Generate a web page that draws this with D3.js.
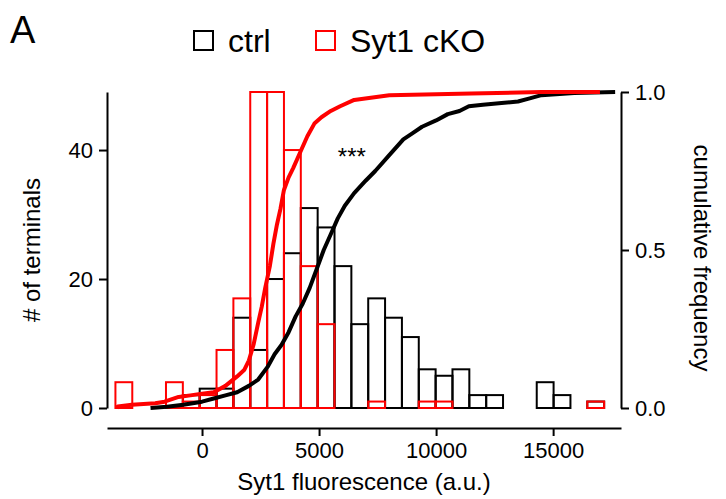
<!DOCTYPE html>
<head>
<meta charset="utf-8">
<script src="https://d3js.org/d3.v7.min.js"></script>
<style>
  body { margin: 0; background: #fff; font-family: "Liberation Sans", Arial, sans-serif; }
  .axis path, .axis line { stroke: #000; stroke-width: 2px; }
  .axis text { font-size: 22px; fill: #000; font-family: "Liberation Sans", Arial, sans-serif; }
</style>
</head>
<body>
<div id="vis"></div>
<script>
// histogram bins: start of each bin (a.u.), width 720
var binStarts = [-3700,-2980,-2260,-1540,-820,-100,620,1340,2060,2780,3500,4220,4940,5660,6380,7100,7820,8540,9260,9980,10700,11420,12140,12860,13580,14300,15020,15740,16460];
var binWidth = 720;
var ctrlCounts = [0,0,0,0,2,3,3,14,9,20,24,31,28,22,13,17,14,11,6,5,6,2,2,0,0,4,2,0,1];
var cKOCounts  = [4,0,0,4,1,2,9,17,49,49,40,22,13,0,0,1,0,0,1,1,0,0,0,0,0,0,0,0,1];

// cumulative curves [value, fraction]
var ctrlCum = [[-2200,0],[-1500,0.004],[-800,0.01],[0,0.02],[500,0.03],[1000,0.04],[1500,0.05],[2000,0.07],
  [2400,0.09],[2800,0.13],[3100,0.17],[3400,0.2],[3700,0.24],[4000,0.29],[4300,0.33],[4600,0.38],[4900,0.44],
  [5200,0.5],[5500,0.55],[5800,0.6],[6100,0.64],[6500,0.68],[7000,0.72],[7400,0.75],[8000,0.8],[8600,0.85],
  [9000,0.87],[9400,0.89],[10000,0.91],[10500,0.93],[11000,0.94],[11400,0.955],[12000,0.96],[12800,0.965],
  [13500,0.97],[14000,0.98],[14500,0.99],[15900,0.997],[17650,1]];
var cKOCum = [[-3650,0],[-3600,0.005],[-3000,0.01],[-2000,0.015],[-1600,0.02],[-1000,0.035],[-500,0.04],[0,0.045],
  [500,0.05],[1000,0.07],[1500,0.1],[1800,0.12],[2000,0.15],[2200,0.2],[2400,0.27],[2550,0.32],[2700,0.38],
  [2900,0.45],[3050,0.52],[3200,0.58],[3350,0.63],[3500,0.69],[3700,0.73],[3900,0.76],[4200,0.81],[4500,0.86],
  [4800,0.9],[5100,0.92],[5500,0.94],[5900,0.955],[6500,0.975],[8000,0.99],[11500,0.995],[14500,1],[17000,1]];

var xTicks = [0,5000,10000,15000];
var yTicks = [0,20,40];
var cumTicks = [0,0.5,1];

var W = 726, H = 499;
var plotL = 107, plotR = 621, plotT = 92, plotB = 408, xAxisY = 428;

var svg = d3.select("#vis").append("svg").attr("width", W).attr("height", H);

var x = d3.scaleLinear().domain([-4060, 17900]).range([plotL, plotR]);
var y = d3.scaleLinear().domain([0, 49]).range([plotB, plotT]);
var yc = d3.scaleLinear().domain([0, 1]).range([plotB, plotT]);

var plot = svg.append("g");

function drawBars(counts, colour) {
  plot.append("g").selectAll("rect")
    .data(counts.map(function(c, i) { return {x0: binStarts[i], n: c}; }).filter(function(d) { return d.n > 0; }))
    .enter().append("rect")
    .attr("x", function(d) { return x(d.x0); })
    .attr("width", function(d) { return x(d.x0 + binWidth) - x(d.x0); })
    .attr("y", function(d) { return y(d.n); })
    .attr("height", function(d) { return plotB - y(d.n); })
    .attr("fill", "none")
    .attr("stroke", colour)
    .attr("stroke-width", 2);
}
drawBars(ctrlCounts, "#000");
drawBars(cKOCounts, "#ff0000");

var line = d3.line().x(function(d) { return x(d[0]); }).y(function(d) { return yc(d[1]); });
svg.append("path").datum(ctrlCum).attr("d", line)
  .attr("fill", "none").attr("stroke", "#000").attr("stroke-width", 4).attr("stroke-linejoin", "round");
svg.append("path").datum(cKOCum).attr("d", line)
  .attr("fill", "none").attr("stroke", "#ff0000").attr("stroke-width", 4).attr("stroke-linejoin", "round");

// axes
svg.append("g").attr("class", "axis").attr("transform", "translate(" + plotL + ",0)")
  .call(d3.axisLeft(y).tickValues(yTicks).tickSize(8).tickSizeOuter(0).tickPadding(6));
svg.append("g").attr("class", "axis").attr("transform", "translate(" + plotR + ",0)")
  .call(d3.axisRight(yc).tickValues(cumTicks).tickFormat(d3.format(".1f")).tickSize(8).tickSizeOuter(0).tickPadding(6));
svg.append("g").attr("class", "axis").attr("transform", "translate(0," + xAxisY + ")")
  .call(d3.axisBottom(x).tickValues(xTicks).tickFormat(d3.format("d")).tickSize(8).tickSizeOuter(0).tickPadding(6));

// titles
svg.append("text").attr("transform", "translate(40," + ((plotT + plotB) / 2) + ") rotate(-90)")
  .attr("text-anchor", "middle").style("font-size", "24px").text("# of terminals");
svg.append("text").attr("transform", "translate(694," + ((plotT + plotB) / 2 + 8) + ") rotate(90)")
  .attr("text-anchor", "middle").style("font-size", "24px").text("cumulative frequency");
svg.append("text").attr("x", (plotL + plotR) / 2).attr("y", 490)
  .attr("text-anchor", "middle").style("font-size", "24px").text("Syt1 fluorescence (a.u.)");
svg.append("text").attr("x", x(6400)).attr("y", 165)
  .attr("text-anchor", "middle").style("font-size", "24px").text("***");

// panel letter and legend
svg.append("text").attr("x", 10).attr("y", 43).style("font-size", "38px").text("A");
var legend = [{label: "ctrl", colour: "#000", x: 194}, {label: "Syt1 cKO", colour: "#ff0000", x: 316}];
var lg = svg.append("g").selectAll("g").data(legend).enter().append("g");
lg.append("rect").attr("x", function(d) { return d.x; }).attr("y", 31).attr("width", 19).attr("height", 19)
  .attr("fill", "none").attr("stroke", function(d) { return d.colour; }).attr("stroke-width", 2);
lg.append("text").attr("x", function(d) { return d.x + 34; }).attr("y", 52)
  .style("font-size", "32px").text(function(d) { return d.label; });
</script>
</body>
